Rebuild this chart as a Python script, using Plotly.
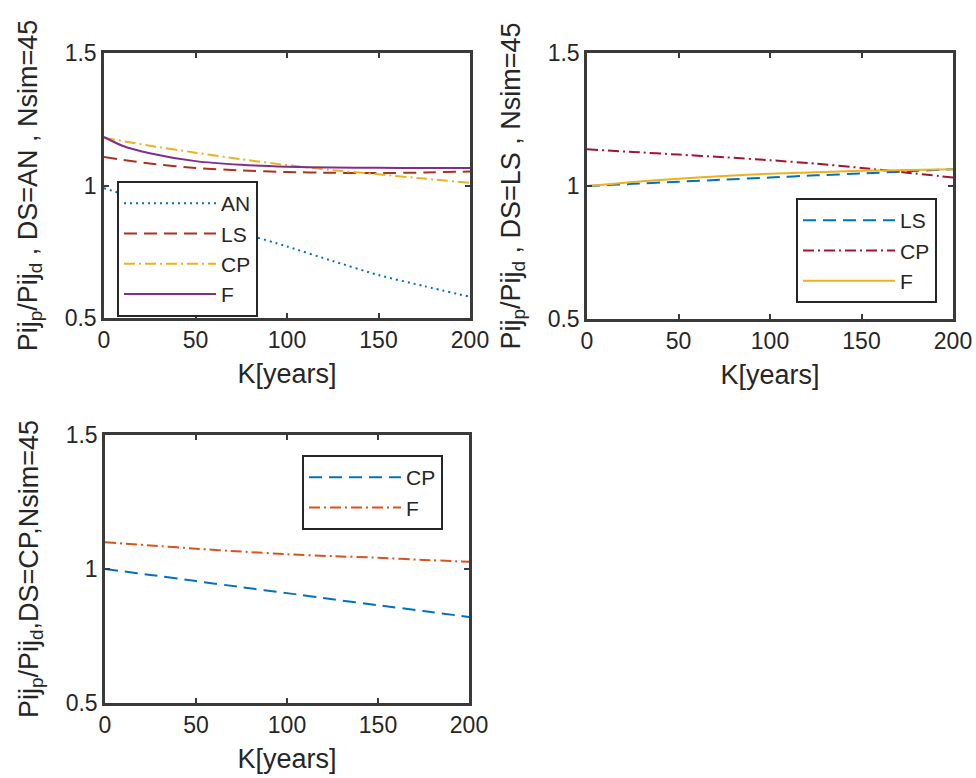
import plotly.graph_objects as go

# ---------------- data ----------------
k = [0, 10, 25, 50, 75, 100, 125, 150, 175, 200]

# panel 1: DS=AN
p1_AN = [0.99, 0.968, 0.935, 0.88, 0.822, 0.77, 0.715, 0.662, 0.62, 0.58]
p1_LS = [1.108, 1.097, 1.083, 1.066, 1.057, 1.051, 1.048, 1.047, 1.049, 1.053]
p1_CP = [1.18, 1.168, 1.15, 1.124, 1.099, 1.077, 1.058, 1.042, 1.026, 1.01]
p1_F = [1.183, 1.15, 1.122, 1.092, 1.078, 1.071, 1.068, 1.067, 1.066, 1.066]

# panel 2: DS=LS
p2_LS = [1.0, 1.003, 1.008, 1.016, 1.024, 1.032, 1.04, 1.047, 1.055, 1.063]
p2_CP = [1.138, 1.134, 1.128, 1.118, 1.108, 1.097, 1.084, 1.068, 1.05, 1.032]
p2_F = [1.0, 1.006, 1.015, 1.027, 1.038, 1.046, 1.052, 1.057, 1.06, 1.063]

# panel 3: DS=CP
p3_CP = [1.0, 0.991, 0.978, 0.955, 0.932, 0.91, 0.887, 0.865, 0.843, 0.821]
p3_F = [1.10, 1.095, 1.088, 1.076, 1.065, 1.055, 1.048, 1.042, 1.034, 1.027]

x_ticks = [0, 50, 100, 150, 200]
y_ticks = [0.5, 1, 1.5]

ytitles = [
    "Pij<sub>p</sub>/Pij<sub>d</sub> , DS=AN , Nsim=45",
    "Pij<sub>p</sub>/Pij<sub>d</sub> , DS=LS , Nsim=45",
    "Pij<sub>p</sub>/Pij<sub>d</sub>,DS=CP,Nsim=45",
]
xtitle = "K[years]"

BLUE = "#0072BD"
ORANGE = "#D95319"
YELLOW = "#EDB120"
PURPLE = "#7E2F8E"
DARKRED = "#A2142F"
BROWNRED = "#A8341E"

FONT = "Liberation Sans, Arial, sans-serif"
TXT = "#262626"
LW = 2

fig = go.Figure()


def add(x, y, name, color, dash, ax, legend):
    fig.add_trace(go.Scatter(
        x=x, y=y, name=name, mode="lines",
        line=dict(color=color, width=LW, dash=dash, shape="spline", smoothing=0.6),
        xaxis="x" + ("" if ax == 1 else str(ax)),
        yaxis="y" + ("" if ax == 1 else str(ax)),
        legend=legend,
    ))


DOT = "2px,4px"
DASH = "13px,7px"
DASHDOT = "11px,4px,2px,4px"

add(k, p1_AN, "AN", BLUE, DOT, 1, "legend")
add(k, p1_LS, "LS", BROWNRED, DASH, 1, "legend")
add(k, p1_CP, "CP", YELLOW, DASHDOT, 1, "legend")
add(k, p1_F, "F", PURPLE, "solid", 1, "legend")

add(k, p2_LS, "LS", BLUE, DASH, 2, "legend2")
add(k, p2_CP, "CP", DARKRED, DASHDOT, 2, "legend2")
add(k, p2_F, "F", YELLOW, "solid", 2, "legend2")

add(k, p3_CP, "CP", BLUE, DASH, 3, "legend3")
add(k, p3_F, "F", ORANGE, DASHDOT, 3, "legend3")

W, H = 976, 778
domains = {
    1: ([104 / W, 470 / W], [1 - 318 / H, 1 - 53 / H]),
    2: ([587 / W, 953 / W], [1 - 319 / H, 1 - 53 / H]),
    3: ([105 / W, 469 / W], [1 - 703 / H, 1 - 435 / H]),
}

layout = dict(
    template="none",
    width=W, height=H,
    margin=dict(l=0, r=0, t=0, b=0, autoexpand=False),
    paper_bgcolor="white", plot_bgcolor="white",
    font=dict(family=FONT, size=23, color=TXT),
    showlegend=True,
)

axis_common = dict(
    automargin=False,
    showline=True, linecolor="#3a3a3a", linewidth=2.5,
    mirror="ticks", ticks="inside", ticklen=5, tickwidth=1.5, tickcolor="#3a3a3a",
    showgrid=False, zeroline=False,
    tickfont=dict(family=FONT, size=23, color=TXT),
)

for i in (1, 2, 3):
    sfx = "" if i == 1 else str(i)
    xd, yd = domains[i]
    layout["xaxis" + sfx] = dict(
        axis_common, domain=xd, range=[0, 200], tickvals=x_ticks,
        anchor="y" + sfx,
        title=dict(text=xtitle, font=dict(family=FONT, size=27, color=TXT), standoff=12),
    )
    layout["yaxis" + sfx] = dict(
        axis_common, domain=yd, range=[0.5, 1.5], tickvals=y_ticks,
        anchor="x" + sfx,
        title=dict(text=ytitles[i - 1], font=dict(family=FONT, size=27, color=TXT), standoff=20),
    )

leg_common = dict(
    bgcolor="white", bordercolor=TXT, borderwidth=2,
    font=dict(family=FONT, size=21, color=TXT),
    itemwidth=92, tracegroupgap=0, xanchor="left", yanchor="top",
)
layout["legend"] = dict(leg_common, x=117 / W, y=1 - 181 / H)
layout["legend2"] = dict(leg_common, x=796 / W, y=1 - 198 / H)
layout["legend3"] = dict(leg_common, x=302 / W, y=1 - 455 / H)

fig.update_layout(**layout)
fig.write_html("out.html")
